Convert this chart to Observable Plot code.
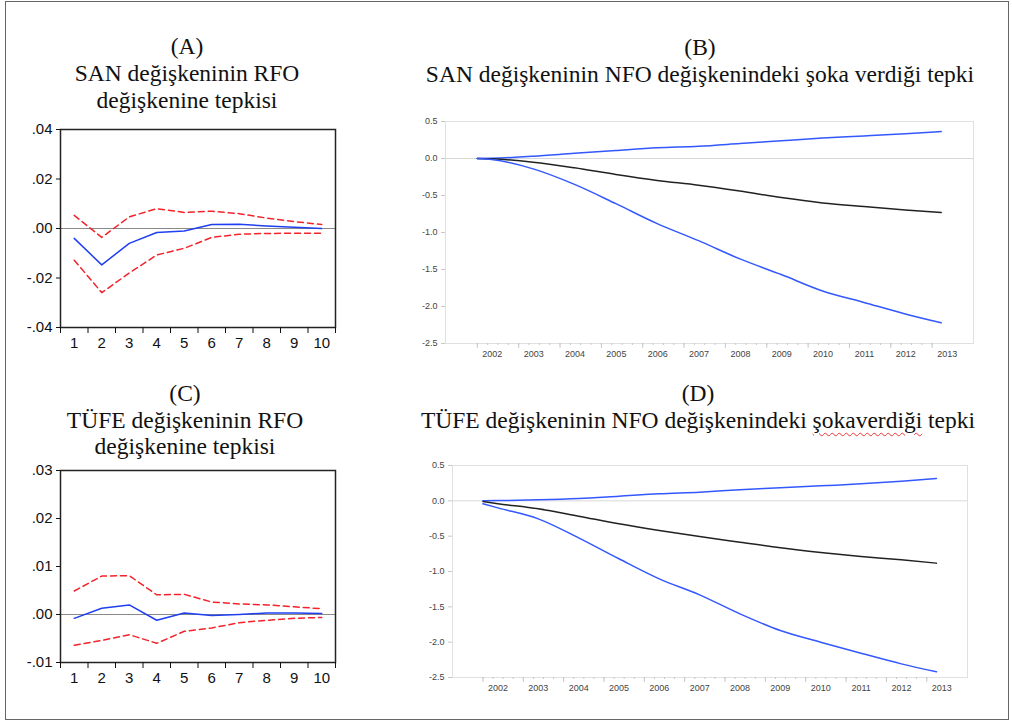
<!DOCTYPE html>
<html><head><meta charset="utf-8">
<script src="https://cdn.jsdelivr.net/npm/d3@7"></script>
<script src="https://cdn.jsdelivr.net/npm/@observablehq/plot@0.6"></script>
<style>
body{margin:0;background:#fff;width:1012px;height:723px;position:relative;overflow:hidden}
.frame{position:absolute;left:5px;top:1px;width:1004px;height:719px;border:1.5px solid #666;box-sizing:border-box}
.title{position:absolute;font-family:"Liberation Serif","Times New Roman",serif;font-size:23.5px;text-align:center;color:#111;line-height:27px;white-space:nowrap}
.panel{position:absolute}
.wavy{text-decoration:underline wavy #e33;text-decoration-thickness:1px;text-underline-offset:4px}
</style></head><body>
<div class="frame"></div>
<div class="title" style="left:37px;top:33px;width:300px">(A)<br>SAN değişkeninin RFO<br>değişkenine tepkisi</div>
<div class="title" style="left:400px;top:34px;width:600px">(B)<br>SAN değişkeninin NFO değişkenindeki şoka verdiği tepki</div>
<div class="title" style="left:35px;top:380px;width:300px;line-height:26.5px">(C)<br>TÜFE değişkeninin RFO<br>değişkenine tepkisi</div>
<div class="title" style="left:398px;top:380px;width:600px">(D)<br>TÜFE değişkeninin NFO değişkenindeki <span class="wavy">şokaverdiği</span> tepki</div>
<div class="panel" id="pA" style="left:0;top:115px"></div>
<div class="panel" id="pB" style="left:400px;top:105px"></div>
<div class="panel" id="pC" style="left:0;top:455px"></div>
<div class="panel" id="pD" style="left:400px;top:450px"></div>
<script>
// ---- Panels A & C: impulse responses over 10 periods ----
const steps = [1,2,3,4,5,6,7,8,9,10];
const sanRfo      = [-0.004,-0.0147,-0.006,-0.0016,-0.001,0.0016,0.0017,0.001,0.0005,0.0];
const sanRfoUpper = [0.0053,-0.0036,0.0047,0.008,0.0065,0.007,0.006,0.0042,0.0028,0.0016];
const sanRfoLower = [-0.0128,-0.0259,-0.018,-0.0107,-0.008,-0.0036,-0.0023,-0.002,-0.0019,-0.0019];
const tufeRfo      = [-0.0008,0.0013,0.002,-0.0012,0.0003,-0.0002,0.0,0.0003,0.0003,0.0002];
const tufeRfoUpper = [0.0049,0.008,0.0081,0.0041,0.0042,0.0026,0.0022,0.002,0.0016,0.0012];
const tufeRfoLower = [-0.0064,-0.0054,-0.0042,-0.006,-0.0035,-0.0028,-0.0017,-0.0012,-0.0008,-0.0006];
const yTicksA = [-0.04,-0.02,0,0.02,0.04];
const yTicksC = [-0.01,0,0.01,0.02,0.03];

// ---- Panels B & D: responses over time ----
const years = [2002,2003,2004,2005,2006,2007,2008,2009,2010,2011,2012,2013];
const timeB = [2002.0,2002.35,2003.35,2004.35,2005.35,2006.35,2007.35,2008.35,2009.35,2010.35,2011.35,2012.35,2013.22];
const sanNfoUpper = [0,0.003,0.03,0.07,0.108,0.144,0.165,0.202,0.24,0.276,0.305,0.335,0.364];
const sanNfo      = [0,-0.005,-0.05,-0.126,-0.216,-0.296,-0.36,-0.44,-0.528,-0.6,-0.65,-0.695,-0.73];
const sanNfoLower = [0,-0.015,-0.14,-0.35,-0.61,-0.88,-1.11,-1.357,-1.568,-1.79,-1.945,-2.10,-2.22];
const timeD = [2002.0,2002.37,2003.37,2004.37,2005.37,2006.37,2007.37,2008.37,2009.37,2010.37,2011.37,2012.37,2013.24];
const tufeNfoUpper = [0,0.003,0.014,0.033,0.066,0.10,0.123,0.156,0.184,0.212,0.24,0.278,0.316];
const tufeNfo      = [-0.01,-0.04,-0.113,-0.217,-0.325,-0.42,-0.505,-0.585,-0.665,-0.731,-0.788,-0.835,-0.882];
const tufeNfoLower = [-0.042,-0.1,-0.255,-0.524,-0.82,-1.104,-1.33,-1.6,-1.835,-2.0,-2.156,-2.307,-2.42];
const yTicksB = [-2.5,-2.0,-1.5,-1.0,-0.5,0.0,0.5];

const rows = (xs, ys) => xs.map((x, i) => ({x, y: ys[i]}));
const fmtDot = d => d.toFixed(2).replace("0.", ".");
const sansNarrow = '"Liberation Sans Narrow","Liberation Sans",Arial,sans-serif';

function irfPanel(el, mid, up, lo, yDom, yTicks, height, mTop, mBottom) {
  const plot = Plot.plot({
    width: 360, height,
    marginLeft: 60, marginRight: 25, marginTop: mTop, marginBottom: mBottom,
    style: {fontFamily: sansNarrow, fontSize: "15px", color: "#111", background: "transparent"},
    x: {type: "linear", domain: [0.5, 10.5], label: null},
    y: {domain: yDom, label: null},
    marks: [
      Plot.ruleY([0], {stroke: "#8a8a8a", strokeWidth: 1.2}),
      Plot.line(rows(steps, up), {x: "x", y: "y", stroke: "#f2232b", strokeWidth: 1.5, strokeDasharray: "6,4"}),
      Plot.line(rows(steps, lo), {x: "x", y: "y", stroke: "#f2232b", strokeWidth: 1.5, strokeDasharray: "6,4"}),
      Plot.line(rows(steps, mid), {x: "x", y: "y", stroke: "#1f3ff0", strokeWidth: 1.5}),
      Plot.frame({stroke: "#222", strokeWidth: 1.5}),
      Plot.axisY({ticks: yTicks, tickSize: 4, tickPadding: 4, tickFormat: fmtDot, fontSize: 15, label: null}),
      Plot.axisX({ticks: d3.range(0.5, 11, 1), tickSize: 6, tickFormat: () => "", label: null}),
      Plot.axisX({ticks: steps, tickSize: 0, tickPadding: 10, tickFormat: d => String(d), fontSize: 15, label: null})
    ]
  });
  document.getElementById(el).appendChild(plot);
}

irfPanel("pA", sanRfo, sanRfoUpper, sanRfoLower, [-0.04, 0.04], yTicksA, 250, 14, 38);
irfPanel("pC", tufeRfo, tufeRfoUpper, tufeRfoLower, [-0.01, 0.03], yTicksC, 240, 15, 33);

function timePanel(el, t, up, mid, lo, xDom, height, mLeft, mRight, mTop, mBottom) {
  const quarters = d3.range(2002, 2013.01, 0.25);
  const plot = Plot.plot({
    width: 600, height,
    marginLeft: mLeft, marginRight: mRight, marginTop: mTop, marginBottom: mBottom,
    style: {fontFamily: sansNarrow, fontSize: "9px", color: "#444", background: "transparent"},
    x: {type: "linear", domain: xDom, label: null},
    y: {domain: [-2.5, 0.5], label: null},
    marks: [
      Plot.frame({stroke: "#e0e0e0", strokeWidth: 1}),
      Plot.ruleY([0], {stroke: "#d8d8d8", strokeWidth: 1}),
      Plot.axisY({ticks: yTicksB, tickSize: 4, tickPadding: 4, tickFormat: d => d.toFixed(1), stroke: "#c8c8c8", fill: "#444", fontSize: 9, label: null}),
      Plot.axisX({ticks: years, tickSize: 5, tickFormat: () => "", stroke: "#c8c8c8", label: null}),
      Plot.axisX({ticks: quarters, tickSize: 2, tickFormat: () => "", stroke: "#c8c8c8", label: null}),
      Plot.axisX({ticks: years, tickSize: 0, tickPadding: 7, dx: 15, tickFormat: d => String(d), fill: "#444", fontSize: 9, label: null}),
      Plot.line(rows(t, up), {x: "x", y: "y", stroke: "#3358ff", strokeWidth: 1.5, curve: "monotone-x"}),
      Plot.line(rows(t, mid), {x: "x", y: "y", stroke: "#222", strokeWidth: 1.5, curve: "monotone-x"}),
      Plot.line(rows(t, lo), {x: "x", y: "y", stroke: "#3358ff", strokeWidth: 1.5, curve: "monotone-x"})
    ]
  });
  document.getElementById(el).appendChild(plot);
}

timePanel("pB", timeB, sanNfoUpper, sanNfo, sanNfoLower, [2001.23, 2014.0], 260, 45, 27, 16, 22);
timePanel("pD", timeD, tufeNfoUpper, tufeNfo, tufeNfoLower, [2001.245, 2014.01], 250, 52, 33, 15, 23);
</script>
</body></html>
